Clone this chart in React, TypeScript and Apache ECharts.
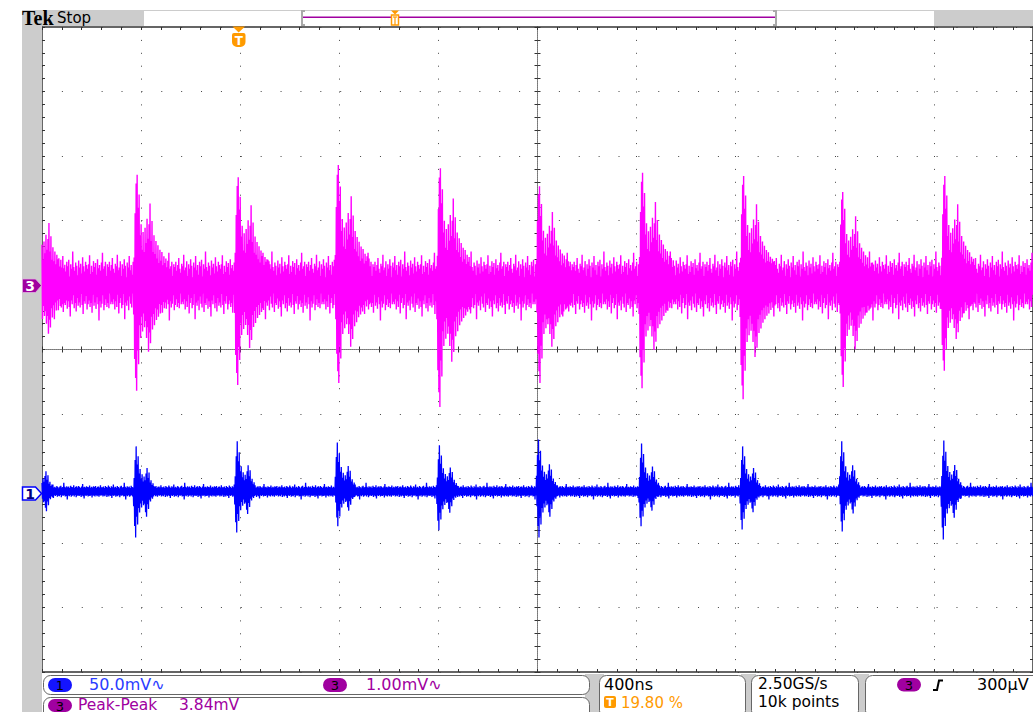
import React, { useEffect, useRef } from 'react';
import * as echarts from 'echarts';

// ---------------- data ----------------
const timeWindowNs = [-2000, 2000]; // screen-centred time, 400 ns/div, 10 divisions
const nsPerDiv = 400;
const sampleStepNs = 2;
const binNs = 4;

// start of each burst (ns, relative to screen centre)
const burstOnsetNs = [-2037, -1630, -1223, -817, -406, -4, 410, 817, 1219, 1630];

// channel 3 (1.00 mV/div, marker at +1.0 div)
const ch3MvPerDiv = 1.0;
const ch3PositionDiv = 1.0;
const ch3PeakHighMv = [1.3, 1.71, 1.67, 1.86, 1.81, 1.53, 1.74, 1.69, 1.44, 1.69];
const ch3PeakLowMv = [1.2, 1.64, 1.55, 1.52, 1.89, 1.52, 1.6, 1.77, 1.58, 1.33];
const ch3BurstShapeHigh = [0.25, 0.65, 0.92, 1.0, 0.7, 0.82, 0.45, 0.55, 0.32, 0.48, 0.3, 0.52, 0.38, 0.6, 0.42, 0.55, 0.74, 0.4, 0.58, 0.3, 0.45, 0.28, 0.4, 0.24, 0.36, 0.2, 0.32, 0.22, 0.3, 0.18, 0.26, 0.2, 0.24, 0.16, 0.22, 0.15];
const ch3BurstShapeLow = [0.28, 0.7, 0.88, 1.0, 0.62, 0.75, 0.38, 0.5, 0.3, 0.44, 0.27, 0.4, 0.34, 0.5, 0.4, 0.63, 0.45, 0.55, 0.3, 0.42, 0.26, 0.38, 0.22, 0.33, 0.2, 0.3, 0.18, 0.27, 0.19, 0.25, 0.16, 0.22, 0.15, 0.2, 0.14, 0.18];
const ch3NoiseHighMv = [0.28, 0.36, 0.22, 0.31, 0.42, 0.25, 0.19, 0.33, 0.29, 0.47, 0.23, 0.27, 0.37, 0.14, 0.32, 0.25, 0.4, 0.3, 0.12, 0.35, 0.27, 0.45, 0.23, 0.31, 0.16, 0.36, 0.29, 0.39, 0.13, 0.32, 0.25, 0.52, 0.28, 0.22, 0.35, 0.3, 0.15, 0.38, 0.27, 0.33, 0.18, 0.43, 0.29, 0.21, 0.36, 0.31, 0.25, 0.32, 0.46, 0.17, 0.3, 0.2, 0.37, 0.28, 0.34, 0.16, 0.4, 0.26, 0.31, 0.22, 0.35, 0.5, 0.25, 0.29, 0.36, 0.14, 0.32];
const ch3NoiseLowMv = [-0.3, -0.22, -0.38, -0.25, -0.34, -0.15, -0.44, -0.28, -0.2, -0.36, -0.31, -0.14, -0.53, -0.27, -0.32, -0.24, -0.39, -0.18, -0.29, -0.35, -0.13, -0.42, -0.28, -0.31, -0.21, -0.37, -0.25, -0.34, -0.49, -0.24, -0.3, -0.16, -0.36, -0.28, -0.41, -0.2, -0.32, -0.27, -0.35, -0.14, -0.31, -0.45, -0.25, -0.29, -0.17, -0.38, -0.3, -0.24, -0.34, -0.28, -0.43, -0.15, -0.32, -0.27, -0.37, -0.19, -0.3, -0.55, -0.25, -0.35, -0.29, -0.16, -0.39, -0.31, -0.22, -0.34, -0.28, -0.36, -0.13, -0.3, -0.26];

// channel 1 (50.0 mV/div, marker at -2.2 div)
const ch1MvPerDiv = 50;
const ch1PositionDiv = -2.2;
const ch1PeakHighMv = [30, 34.9, 38.8, 38.0, 35.7, 40.3, 37.2, 34.9, 38.8, 39.5];
const ch1PeakLowMv = [28, 35.7, 31.8, 27.1, 30.2, 35.7, 27.1, 29.5, 31.0, 37.2];
const ch1BurstShapeHigh = [0.3, 0.7, 1.0, 0.6, 0.78, 0.4, 0.5, 0.28, 0.38, 0.22, 0.33, 0.25, 0.4, 0.52, 0.3, 0.42, 0.2, 0.25, 0.14, 0.18, 0.12];
const ch1BurstShapeLow = [0.32, 0.75, 1.0, 0.55, 0.72, 0.36, 0.46, 0.26, 0.35, 0.2, 0.3, 0.27, 0.45, 0.55, 0.28, 0.38, 0.18, 0.22, 0.13, 0.16, 0.11];
const ch1NoiseHighMv = [3.1, 3.8, 2.6, 4.2, 3.3, 2.9, 4.6, 3.5, 2.7, 3.9, 3.2, 5.4, 3.0, 3.6, 2.8, 4.1, 3.4, 2.5, 3.7, 4.4, 3.0, 3.3, 6.6, 3.5, 2.9, 4.0, 3.2, 3.8, 2.7, 4.3, 3.4, 3.1, 4.8, 2.8, 3.6, 3.9, 3.0, 4.2, 3.3, 2.6, 3.7, 5.8, 3.1, 3.5, 2.9, 4.0, 3.4, 3.2, 4.5, 2.8, 3.6, 3.0, 3.9, 3.3, 4.1, 2.7, 3.5, 3.8, 3.0, 4.7, 3.2];
const ch1NoiseLowMv = [-3.4, -2.8, -4.0, -3.1, -3.7, -2.6, -4.4, -3.2, -3.9, -2.9, -3.5, -5.1, -3.0, -3.6, -2.7, -4.2, -3.3, -3.8, -2.8, -4.6, -3.1, -3.4, -2.9, -4.0, -3.5, -6.2, -3.2, -3.7, -2.7, -4.1, -3.3, -3.0, -3.9, -2.8, -4.5, -3.4, -3.1, -3.6, -2.9, -4.3, -3.2, -3.8, -5.5, -3.0, -3.5, -2.7, -4.0, -3.3, -3.6, -2.9, -4.8, -3.1, -3.4, -3.9, -2.8, -3.7, -3.2, -4.2, -3.0];

// readouts
const ch1ScaleText = '50.0mV\u223F';
const ch3ScaleText = '1.00mV\u223F';
const measureName = 'Peak-Peak';
const measureValue = '3.84mV';
const timebaseText = '400ns';
const triggerPosText = '19.80 %';
const sampleRateText = '2.50GS/s';
const recordText = '10k points';
const triggerLevelText = '300\u00B5V';

// ---------------- helpers ----------------
function buildTrace(
  peakHi: number[], peakLo: number[], shapeHi: number[], shapeLo: number[],
  noiseHi: number[], noiseLo: number[], posDiv: number, mvPerDiv: number
) {
  const out: number[][] = [];
  let k = 0;
  for (let t = timeWindowNs[0]; t <= timeWindowNs[1]; t += sampleStepNs, k++) {
    const bin = Math.floor((t - timeWindowNs[0]) / binNs);
    const high = k % 2 === 0;
    let v = high ? noiseHi[bin % noiseHi.length] : noiseLo[bin % noiseLo.length];
    for (let b = 0; b < burstOnsetNs.length; b++) {
      const o = Math.floor((t - burstOnsetNs[b]) / binNs);
      const shape = high ? shapeHi : shapeLo;
      if (o >= 0 && o < shape.length) {
        if (high) v = Math.max(v, peakHi[b] * shape[o]);
        else v = Math.min(v, -peakLo[b] * shape[o]);
      }
    }
    out.push([t, posDiv + v / mvPerDiv]);
  }
  return out;
}

const GRAY = '#cccccc';
const PURPLE = '#a000a0';
const ORANGE = '#ff9a00';
const FONT = '"DejaVu Sans", sans-serif';

function txt(x: number, y: number, text: string, fill: string, size = 16, extra: any = {}) {
  return {
    type: 'text', x, y, z: 20,
    style: { text, fill, font: `${extra.weight || 'normal'} ${size}px ${extra.family || FONT}`, textAlign: extra.align || 'left', textVerticalAlign: 'middle' },
  };
}

function pill(x: number, y: number, w: number, h: number, fill: string, label: string) {
  return [
    { type: 'rect', z: 15, shape: { x, y, width: w, height: h, r: h / 2 }, style: { fill } },
    txt(x + w / 2, y + h / 2 + 0.5, label, '#000', 13, { align: 'center' }),
  ];
}

function buildGraphics() {
  const g: any[] = [];
  // left gray strip and top bar
  g.push({ type: 'rect', z: 1, shape: { x: 22, y: 10, width: 20, height: 702 }, style: { fill: GRAY } });
  g.push({ type: 'rect', z: 1, shape: { x: 22, y: 10, width: 122, height: 16 }, style: { fill: GRAY } });
  g.push({ type: 'rect', z: 1, shape: { x: 934, y: 10, width: 99, height: 16 }, style: { fill: GRAY } });
  g.push({ type: 'line', z: 1, shape: { x1: 143, y1: 10.5, x2: 934, y2: 10.5 }, style: { stroke: GRAY, lineWidth: 1 } });
  g.push(txt(22, 18, 'Tek', '#000', 20, { weight: 'bold', family: '"Liberation Serif", serif' }));
  g.push(txt(57, 17.5, 'Stop', '#000', 15));
  // record view bracket
  g.push({ type: 'polyline', z: 2, shape: { points: [[305, 11], [302, 11], [302, 25], [305, 25]] }, style: { stroke: '#aaaaaa', lineWidth: 2, fill: 'none' } });
  g.push({ type: 'polyline', z: 2, shape: { points: [[773, 11], [776, 11], [776, 25], [773, 25]] }, style: { stroke: '#aaaaaa', lineWidth: 2, fill: 'none' } });
  g.push({ type: 'line', z: 2, shape: { x1: 303, y1: 17.3, x2: 775, y2: 17.3 }, style: { stroke: PURPLE, lineWidth: 1.5 } });
  g.push({ type: 'polygon', z: 3, shape: { points: [[391, 10.5], [399, 10.5], [395, 14.5]] }, style: { fill: ORANGE } });
  g.push({ type: 'rect', z: 3, shape: { x: 391.5, y: 15, width: 7, height: 10 }, style: { fill: '#fff', stroke: ORANGE, lineWidth: 1.5 } });
  g.push({ type: 'polyline', z: 3, shape: { points: [[393, 17], [397, 17]] }, style: { stroke: ORANGE, lineWidth: 1.2 } });
  g.push({ type: 'line', z: 3, shape: { x1: 395, y1: 17, x2: 395, y2: 25 }, style: { stroke: ORANGE, lineWidth: 1.2 } });
  // trigger position marker on graticule
  g.push({ type: 'polygon', z: 10, shape: { points: [[232.5, 26.5], [245, 26.5], [238.7, 32.5]] }, style: { fill: ORANGE } });
  g.push({ type: 'rect', z: 10, shape: { x: 232, y: 33, width: 13.5, height: 14, r: [2, 2, 5, 5] }, style: { fill: ORANGE } });
  g.push(txt(238.8, 40.5, 'T', '#ffffff', 12, { weight: 'bold', align: 'center' }));
  // channel markers
  g.push({ type: 'polygon', z: 12, shape: { points: [[22.5, 279], [35.5, 279], [41.5, 285.5], [35.5, 292.5], [22.5, 292.5]] }, style: { fill: PURPLE, stroke: '#e0b0e0', lineWidth: 0.8 } });
  g.push(txt(30, 286, '3', '#ffffff', 14, { weight: 'bold', align: 'center' }));
  g.push({ type: 'polygon', z: 12, shape: { points: [[22.5, 487], [35.5, 487], [41.5, 493.5], [35.5, 500], [22.5, 500]] }, style: { fill: '#ffffff', stroke: '#0000ff', lineWidth: 1.5 } });
  g.push(txt(30, 493.8, '1', '#000080', 14, { weight: 'bold', align: 'center' }));
  // status bar gaps
  g.push({ type: 'rect', z: 2, shape: { x: 585, y: 674, width: 19, height: 38 }, style: { fill: GRAY } });
  g.push({ type: 'rect', z: 2, shape: { x: 741, y: 674, width: 15, height: 38 }, style: { fill: GRAY } });
  g.push({ type: 'rect', z: 2, shape: { x: 854, y: 674, width: 15, height: 38 }, style: { fill: GRAY } });
  const box = (x: number, y: number, w: number, h: number) => ({ type: 'rect', z: 5, shape: { x, y, width: w, height: h, r: 7 }, style: { fill: '#ffffff', stroke: '#666666', lineWidth: 1 } });
  g.push(box(43.5, 675.5, 546, 19));
  g.push(box(43.5, 697.5, 546, 22));
  g.push(box(599.5, 675.5, 146, 42));
  g.push(box(751.5, 675.5, 107, 42));
  g.push(box(865.5, 675.5, 180, 42));
  // channel readouts
  g.push(...pill(48, 678, 24, 14, '#1414ff', '1'));
  g.push(txt(89, 684.5, ch1ScaleText, '#2a3cff', 16));
  g.push(...pill(323, 678, 24, 14, PURPLE, '3'));
  g.push(txt(366, 684.5, ch3ScaleText, PURPLE, 16));
  g.push(...pill(48, 699, 24, 13, PURPLE, '3'));
  g.push(txt(78, 704.5, measureName, PURPLE, 15.5));
  g.push(txt(179, 704.5, measureValue, PURPLE, 15.5));
  // timebase
  g.push(txt(604, 684, timebaseText, '#000', 16));
  g.push({ type: 'rect', z: 15, shape: { x: 604, y: 696, width: 12, height: 12, r: 2 }, style: { fill: ORANGE } });
  g.push(txt(610, 702.5, 'T', '#ffffff', 11, { weight: 'bold', align: 'center' }));
  g.push(txt(621, 702.5, triggerPosText, ORANGE, 15));
  // acquisition
  g.push(txt(758, 684, sampleRateText, '#000', 15.5));
  g.push(txt(758, 701.5, recordText, '#000', 15.5));
  // trigger
  g.push(...pill(897, 678, 24, 13.5, PURPLE, '3'));
  g.push({ type: 'polyline', z: 15, shape: { points: [[933, 690], [937, 690], [939, 680.5], [943, 680.5]] }, style: { stroke: '#000', lineWidth: 2, fill: 'none' } });
  g.push(txt(977, 684, triggerLevelText, '#000', 16));
  return g;
}

const tickStyle = { color: '#333333', width: 1 };

function xAxisDef(position: string, onZero: boolean, split: boolean) {
  return {
    type: 'value', min: timeWindowNs[0], max: timeWindowNs[1], interval: nsPerDiv, position,
    axisLabel: { show: false },
    axisLine: onZero
      ? { show: true, onZero: true, onZeroAxisIndex: 0, lineStyle: { color: '#777777', width: 1, type: [1, 1] } }
      : { show: true, onZero: false, lineStyle: { color: '#333333', width: 1.5 } },
    axisTick: { show: true, inside: true, length: 3, lineStyle: tickStyle },
    minorTick: { show: true, splitNumber: 5, length: 3, lineStyle: tickStyle },
    splitLine: { show: split, lineStyle: { color: '#444444', width: 1, type: [1, 11.9] } },
  };
}
function yAxisDef(position: string, onZero: boolean, split: boolean) {
  return {
    type: 'value', min: -5, max: 5, interval: 1, position,
    axisLabel: { show: false },
    axisLine: onZero
      ? { show: true, onZero: true, onZeroAxisIndex: 0, lineStyle: { color: '#777777', width: 1, type: [1, 1] } }
      : { show: true, onZero: false, lineStyle: { color: '#333333', width: 1.5 } },
    axisTick: { show: true, inside: true, length: 3, lineStyle: tickStyle },
    minorTick: { show: true, splitNumber: 5, length: 3, lineStyle: tickStyle },
    splitLine: { show: split, lineStyle: { color: '#444444', width: 1, type: [1, 18.88] } },
  };
}

export default function App() {
  const ref = useRef<HTMLDivElement>(null);
  useEffect(() => {
    if (!ref.current) return;
    const chart = echarts.init(ref.current, undefined, { renderer: 'svg' });
    const ch3 = buildTrace(ch3PeakHighMv, ch3PeakLowMv, ch3BurstShapeHigh, ch3BurstShapeLow, ch3NoiseHighMv, ch3NoiseLowMv, ch3PositionDiv, ch3MvPerDiv);
    const ch1 = buildTrace(ch1PeakHighMv, ch1PeakLowMv, ch1BurstShapeHigh, ch1BurstShapeLow, ch1NoiseHighMv, ch1NoiseLowMv, ch1PositionDiv, ch1MvPerDiv);
    chart.setOption({
      animation: false,
      backgroundColor: '#ffffff',
      grid: { left: 42, top: 27, width: 994, height: 645, show: false },
      xAxis: [xAxisDef('bottom', false, true), xAxisDef('top', false, false), xAxisDef('bottom', true, false), xAxisDef('top', true, false)],
      yAxis: [yAxisDef('left', false, true), yAxisDef('right', false, false), yAxisDef('left', true, false), yAxisDef('right', true, false)],
      series: [
        { name: 'CH3', type: 'line', data: ch3, xAxisIndex: 0, yAxisIndex: 0, showSymbol: false, symbol: 'none', silent: true, lineStyle: { color: '#ff00ff', width: 1.4 }, z: 5 },
        { name: 'CH1', type: 'line', data: ch1, xAxisIndex: 0, yAxisIndex: 0, showSymbol: false, symbol: 'none', silent: true, lineStyle: { color: '#0000ff', width: 1.3 }, z: 5 },
      ],
      graphic: buildGraphics(),
    });
    return () => chart.dispose();
  }, []);
  return <div ref={ref} style={{ position: 'fixed', left: 0, top: 0, width: 1033, height: 712, background: '#fff' }} />;
}
